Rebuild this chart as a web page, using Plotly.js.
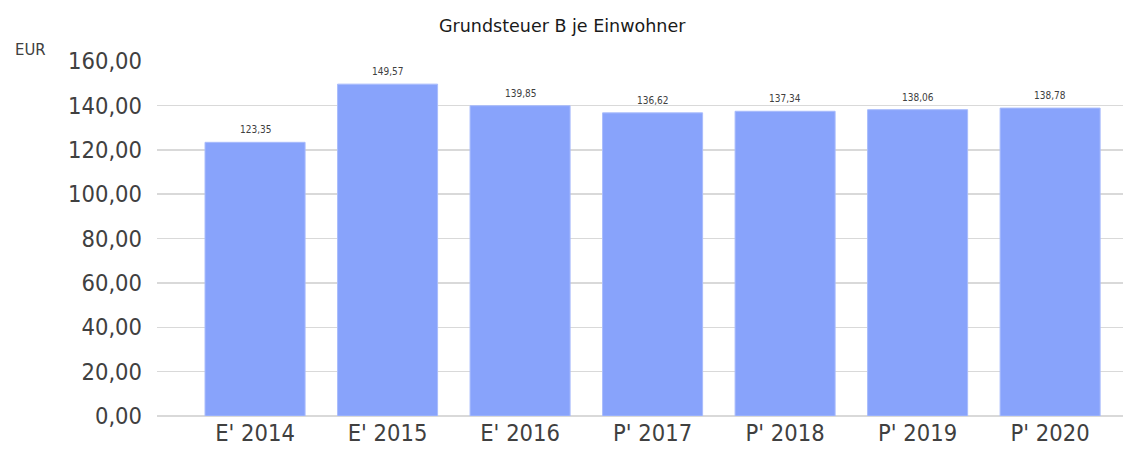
<!DOCTYPE html>
<html><head><meta charset="utf-8">
<script src="https://cdn.plot.ly/plotly-3.0.1.min.js"></script>
<style>html,body{margin:0;padding:0;background:#fff}#c{width:1138px;height:452px}</style>
</head><body><div id="c"></div>
<script>
const categories = ["E' 2014","E' 2015","E' 2016","P' 2017","P' 2018","P' 2019","P' 2020"];
const values = [123.35,149.57,139.85,136.62,137.34,138.06,138.78];
const labels = values.map(v => v.toFixed(2).replace('.', ','));
const font = "DejaVu Sans Condensed, DejaVu Sans, sans-serif";
const fontN = "DejaVu Sans, sans-serif";
const valueAnn = categories.map((c, i) => ({
  x:c, y:values[i], xref:'x', yref:'y', text:labels[i], showarrow:false,
  yanchor:'bottom', yshift:5, font:{family:font,size:10,color:'#404040'}
}));
Plotly.newPlot('c', [{
  type:'bar', x:categories, y:values,
  marker:{color:'#88a3fb', line:{color:'#a9bcfc', width:1}}, width:0.755, hoverinfo:'none'
}], {
  width:1138, height:452, margin:{l:157,r:15,t:61,b:36},
  paper_bgcolor:'#fff', plot_bgcolor:'#fff', separators:',.', showlegend:false,
  title:{text:'Grundsteuer B je Einwohner', font:{family:fontN,size:17.5,color:'#1a1a1a'}, x:0.494, xref:'container', y:0.943, yref:'container', yanchor:'middle'},
  xaxis:{type:'category', range:[-0.74,6.55], showgrid:false, zeroline:false, showline:false, ticks:'',
    tickfont:{family:font,size:23.5,color:'#404040'}},
  yaxis:{range:[0,160], dtick:20, tickformat:'.2f', showgrid:true, gridcolor:'#d9d9d9', gridwidth:1.5,
    zeroline:true, zerolinecolor:'#d9d9d9', zerolinewidth:1.5, showline:false, ticks:'', ticklabelstandoff:14,
    tickfont:{family:font,size:23.5,color:'#404040'}},
  annotations:[{text:'EUR', xref:'paper', yref:'paper', x:-0.131, y:1.033, xanchor:'center', yanchor:'middle', showarrow:false,
    font:{family:font,size:16.5,color:'#404040'}}].concat(valueAnn),
  bargap:0.245
}, {staticPlot:true});
</script></body></html>
